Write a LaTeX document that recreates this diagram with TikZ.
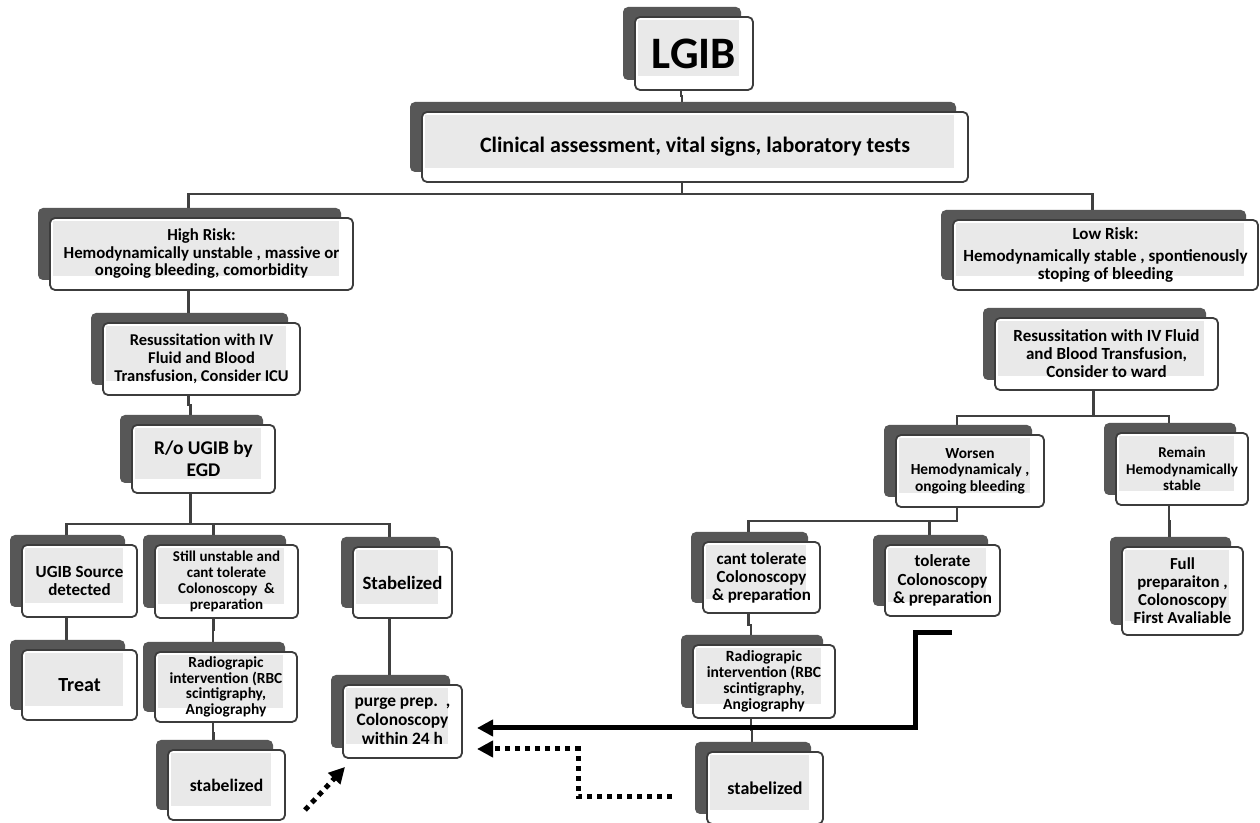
\documentclass[tikz,border=0pt]{standalone}
\usepackage{fontspec}
\setmainfont{Carlito}
\usepackage{tikz}
\usetikzlibrary{arrows.meta,positioning,shadows,backgrounds}
\definecolor{backgray}{HTML}{575757}
\definecolor{edge}{HTML}{3C3C3C}
\definecolor{face}{HTML}{E9E9E9}
\definecolor{linkgray}{HTML}{404040}
\newcommand{\boxfont}[2]{\bfseries\fontsize{#1}{#2}\selectfont}
\tikzset{
  card/.style 2 args={draw=edge, line width=0.9pt, fill=white, rounded corners=2.5pt,
    minimum width=#1*0.5pt, minimum height=#2*0.5pt, inner sep=0pt, align=center,
    general shadow={fill=backgray, shadow xshift=-6pt, shadow yshift=5pt},
    path picture={\fill[face, sharp corners] ([shift={(1.5pt,-1.5pt)}]path picture bounding box.north west)
      rectangle ([shift={(-7pt,7pt)}]path picture bounding box.south east);}},
  link/.style={draw=linkgray, line width=1.2pt},
  bigarrow/.style={black, line width=2.5pt, -{Triangle[length=8pt,width=8pt]}},
  dotarrow/.style={bigarrow, dash pattern=on 2.5pt off 2.5pt},
}

\begin{document}
\begin{tikzpicture}[x=0.5pt,y=-0.5pt]
  \useasboundingbox (0,0) rectangle (1260,823);
  % cards, one per step of the work-up
  \node[card={118}{73}, font=\boxfont{22.5}{25}] (lgib) at (694,53.5) {LGIB};
  \node[card={546}{70}, font=\boxfont{11}{12}] (clin) at (695,147) {Clinical assessment, vital signs, laboratory tests};
  \node[card={303}{72}, font=\boxfont{8.4}{8.75}] (hrisk) at (201.5,254)
    {High Risk:\\Hemodynamically unstable , massive or\\ongoing bleeding, comorbidity};
  \node[card={305}{70}, font=\boxfont{8.5}{9}] (lrisk) at (1105.5,255)
    {Low Risk:\\[2pt]Hemodynamically stable , spontienously\\stoping of bleeding};
  \node[card={197}{72}, font=\boxfont{8.25}{8.9}] (resl) at (201.5,359)
    {Resussitation with IV\\Fluid and Blood\\Transfusion, Consider ICU};
  \node[card={223}{72}, font=\boxfont{8.5}{9}] (resr) at (1106.5,354)
    {Resussitation with IV Fluid\\and Blood Transfusion,\\Consider to ward};
  \node[card={143}{68}, font=\boxfont{9.7}{11}] (rougib) at (203.5,459) {R/o UGIB by\\EGD};
  \node[card={115}{72}, font=\boxfont{8.5}{9}] (ugsrc) at (79.5,581) {UGIB Source\\detected};
  \node[card={143}{73}, font=\boxfont{7.5}{7.9}] (still) at (226.5,581.5)
    {Still unstable and\\cant tolerate\\Colonoscopy~~\&\\preparation};
  \node[card={99}{71}, font=\boxfont{9.4}{10}] (stab) at (402.5,582.5) {Stabelized};
  \node[card={115}{70}, font=\boxfont{10}{11}] (treat) at (79.5,685) {Treat};
  \node[card={142}{70}, font=\boxfont{7.7}{7.9}] (radl) at (226,687)
    {Radiograpic\\intervention (RBC\\scintigraphy,\\Angiography};
  \node[card={117}{70}, font=\boxfont{8.8}{9}] (stbl) at (226.5,785) {stabelized};
  \node[card={119}{73}, font=\boxfont{8.7}{9.5}] (purge) at (402.5,721.5) {purge prep.~~,\\Colonoscopy\\within 24 h};
  \node[card={148}{72}, font=\boxfont{7.7}{8.2}] (worse) at (970,471) {Worsen\\Hemodynamicaly ,\\ongoing bleeding};
  \node[card={132}{72}, font=\boxfont{7.5}{8.2}] (remain) at (1182,469) {Remain\\Hemodynamically\\stable};
  \node[card={117}{71}, font=\boxfont{8.5}{9}] (cant) at (761.5,577.5) {cant tolerate\\Colonoscopy\\\& preparation};
  \node[card={115}{71}, font=\boxfont{8.5}{9.3}] (tol) at (942.5,580.5) {tolerate\\Colonoscopy\\\& preparation};
  \node[card={121}{88}, font=\boxfont{8.4}{9}] (full) at (1182.5,591)
    {Full\\preparaiton ,\\Colonoscopy\\First Avaliable};
  \node[card={142}{73}, font=\boxfont{7.8}{7.9}] (radr) at (764,681.5)
    {Radiograpic\\intervention (RBC\\scintigraphy,\\Angiography};
  \node[card={116}{72}, font=\boxfont{9}{10}] (stbr) at (765,788) {stabelized};

  % tree links sit under the cards
  \begin{scope}[on background layer]
    \fill[white] (0,0) rectangle (1260,823);
    \foreach \p/\c/\d in {lgib/clin/5, clin/hrisk/11, clin/lrisk/11, hrisk/resl/11,
        resl/rougib/9, rougib/ugsrc/30, rougib/still/30, rougib/stab/30,
        ugsrc/treat/11, still/radl/11, radl/stbl/10, stab/purge/30,
        resr/worse/25, resr/remain/25, worse/cant/13, worse/tol/13,
        remain/full/15, cant/radr/11, radr/stbr/11}
      \draw[link] ([xshift=-6.5pt]\p.south) -- ++(0,\d) -| ([xshift=-6.5pt]\c.north);
  \end{scope}

  % arrows back into the colonoscopy card
  \coordinate (tolout) at (952,633);
  \coordinate (purgein) at (477,728);
  \draw[bigarrow] (tolout) -- ++(-37,0) |- (purgein);
  \coordinate (stbrout) at (672,797);
  \coordinate (purgelow) at (477,749);
  \draw[dotarrow] (stbrout) -- ++(-94,0) |- (purgelow);
  \coordinate (stblout) at (305,810);
  \draw[dotarrow] (stblout) -- ++(40,-43);
\end{tikzpicture}
\end{document}
